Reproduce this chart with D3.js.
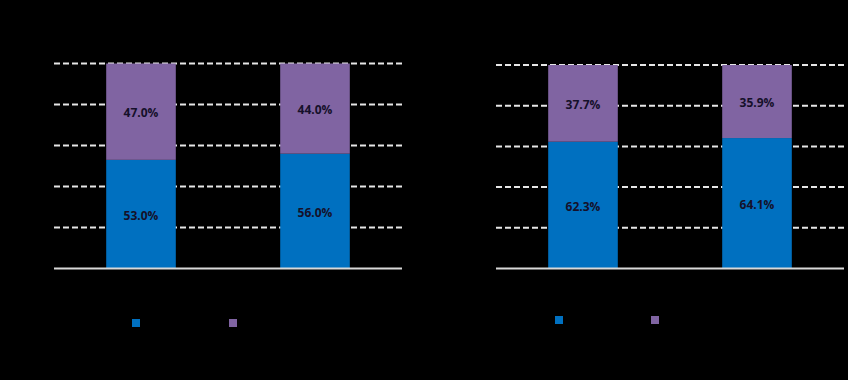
<!DOCTYPE html>
<html><head><meta charset="utf-8">
<script src="https://cdn.jsdelivr.net/npm/d3@7"></script>
<style>html,body{margin:0;padding:0;background:#000;}svg{display:block;}</style>
</head><body>
<svg id="c" width="848" height="380"></svg>
<script>
const categories = ["A", "B"];
const leftBlue = [53.0, 56.0];
const leftPurple = [47.0, 44.0];
const rightBlue = [62.3, 64.1];
const rightPurple = [37.7, 35.9];
const yTicks = [0, 20, 40, 60, 80, 100];
const colors = {blue: "#0070c0", purple: "#8064a2"};

const svg = d3.select("#c");
svg.append("rect").attr("width", 848).attr("height", 380).attr("fill", "#000");

function panel(x0, x1, yTop, yBase, blue, purple, legY, legX) {
  const x = d3.scaleBand().domain(categories).range([x0, x1]).paddingInner(0.6).paddingOuter(0.3);
  const y = d3.scaleLinear().domain([0, 100]).range([yBase, yTop]);
  const g = svg.append("g");
  // gridlines
  g.selectAll("line.grid").data(yTicks.filter(t => t > 0)).join("line")
    .attr("x1", x0).attr("x2", x1)
    .attr("y1", d => y(d)).attr("y2", d => y(d))
    .attr("stroke", "#e6e6e6").attr("stroke-width", 2)
    .attr("stroke-dasharray", "6,3");
  const data = categories.map((c, i) => ({c, b: blue[i], p: purple[i]}));
  g.selectAll("rect.b").data(data).join("rect")
    .attr("x", d => x(d.c)).attr("width", x.bandwidth())
    .attr("y", d => y(d.b)).attr("height", d => y(0) - y(d.b))
    .attr("fill", colors.blue);
  g.selectAll("rect.p").data(data).join("rect")
    .attr("x", d => x(d.c)).attr("width", x.bandwidth())
    .attr("y", d => y(d.b + d.p)).attr("height", d => y(d.b) - y(d.b + d.p))
    .attr("fill", colors.purple);
  // baseline
  g.append("line").attr("x1", x0).attr("x2", x1).attr("y1", y(0)).attr("y2", y(0))
    .attr("stroke", "#d9d9d9").attr("stroke-width", 2);
  const lab = (sel, val, mid) => sel.append("text")
    .attr("text-anchor", "middle").attr("dominant-baseline", "central")
    .attr("font-family", "Open Sans, sans-serif").attr("font-weight", 700)
    .attr("font-size", 12).attr("fill", "#15102a");
  data.forEach(d => {
    lab(g).attr("x", x(d.c) + x.bandwidth() / 2).attr("y", (y(0) + y(d.b)) / 2 + 1).text(d.b.toFixed(1) + "%");
    lab(g).attr("x", x(d.c) + x.bandwidth() / 2).attr("y", (y(d.b) + y(d.b + d.p)) / 2 + 1).text(d.p.toFixed(1) + "%");
  });
  // legend swatches
  g.append("rect").attr("x", legX[0]).attr("y", legY).attr("width", 8).attr("height", 8).attr("fill", colors.blue);
  g.append("rect").attr("x", legX[1]).attr("y", legY).attr("width", 8).attr("height", 8).attr("fill", colors.purple);
}

panel(54, 402, 63.5, 268.5, leftBlue, leftPurple, 319, [132, 229]);
panel(496, 844, 65, 268.5, rightBlue, rightPurple, 316, [555, 651]);
</script>
</body></html>
